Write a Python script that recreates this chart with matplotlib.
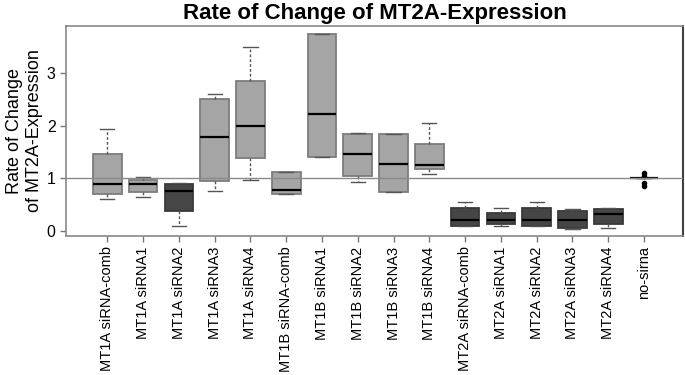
import matplotlib
matplotlib.use("Agg")
import matplotlib.pyplot as plt

plt.rcParams['font.family'] = ['Liberation Sans', 'DejaVu Sans']

categories = ["MT1A siRNA-comb", "MT1A siRNA1", "MT1A siRNA2", "MT1A siRNA3", "MT1A siRNA4",
              "MT1B siRNA-comb", "MT1B siRNA1", "MT1B siRNA2", "MT1B siRNA3", "MT1B siRNA4",
              "MT2A siRNA-comb", "MT2A siRNA1", "MT2A siRNA2", "MT2A siRNA3", "MT2A siRNA4",
              "no-sirna"]
whislo = [0.61, 0.645, 0.095, 0.76, 0.97, 0.70, 1.40, 0.94, 0.746, 1.09,
          0.095, 0.10, 0.108, 0.04, 0.07, 1.0]
q1     = [0.70, 0.746, 0.374, 0.955, 1.38, 0.70, 1.40, 1.04, 0.746, 1.17,
          0.095, 0.139, 0.108, 0.07, 0.133, 1.0]
med    = [0.886, 0.886, 0.77, 1.79, 2.0, 0.79, 2.22, 1.47, 1.28, 1.26,
          0.214, 0.209, 0.22, 0.209, 0.317, 1.0]
q3     = [1.455, 0.97, 0.89, 2.50, 2.85, 1.13, 3.73, 1.835, 1.85, 1.66,
          0.44, 0.336, 0.44, 0.374, 0.42, 1.0]
whishi = [1.93, 1.02, 0.917, 2.61, 3.49, 1.13, 3.73, 1.87, 1.85, 2.06,
          0.556, 0.44, 0.56, 0.417, 0.44, 1.0]
outliers = [[], [], [], [], [], [], [], [], [], [],
            [], [], [], [], [], [1.11, 1.05, 0.92, 0.86]]
dark = [False, False, True, False, False, False, False, False, False, False,
        True, True, True, True, True, True]
yticks = [0, 1, 2, 3]

fig = plt.figure(figsize=(6.85, 3.75), dpi=100)
ax = fig.add_axes([66/685, 1-236/375, (683-66)/685, (236-26)/375])

stats = []
for i in range(len(categories)):
    stats.append(dict(whislo=whislo[i], q1=q1[i], med=med[i], q3=q3[i],
                      whishi=whishi[i], fliers=outliers[i], label=categories[i]))

positions = list(range(1, len(categories) + 1))
bp = ax.bxp(stats, positions=positions, widths=0.8, patch_artist=True,
            showfliers=True,
            medianprops=dict(color='black', linewidth=1.6),
            whiskerprops=dict(color='#555555', linestyle=(0, (2, 1.5)), linewidth=1.0),
            capprops=dict(color='#555555', linewidth=1.0),
            flierprops=dict(marker='o', markersize=3, markerfacecolor='black',
                            markeredgecolor='black'))
for patch, d in zip(bp['boxes'], dark):
    if d:
        patch.set_facecolor('#464646')
        patch.set_edgecolor('#3a3a3a')
    else:
        patch.set_facecolor('#a5a5a5')
        patch.set_edgecolor('#7d7d7d')
    patch.set_linewidth(1.3)

ax.axhline(1, color='#8a8a8a', linewidth=1.0, zorder=5)

ax.set_xlim(-0.155, 17.09)
ax.set_ylim(-0.091, 3.89)
ax.set_xticks(positions)
ax.set_xticklabels(categories, rotation=90, fontsize=10.5)
ax.set_yticks(yticks)
ax.set_yticklabels([str(t) for t in yticks], fontsize=11.5)
ax.tick_params(axis='both', color='#777777', length=4, width=1.0)

for s in ['left', 'top', 'bottom']:
    ax.spines[s].set_color('#888888')
    ax.spines[s].set_linewidth(1.2)
ax.spines['right'].set_color('#404040')
ax.spines['right'].set_linewidth(1.5)

ax.set_title("Rate of Change of MT2A-Expression", fontsize=16, fontweight='bold', pad=5)
ax.set_ylabel("Rate of Change\nof MT2A-Expression", fontsize=13, linespacing=1.2, labelpad=3)

fig.savefig("out.png", dpi=100)
